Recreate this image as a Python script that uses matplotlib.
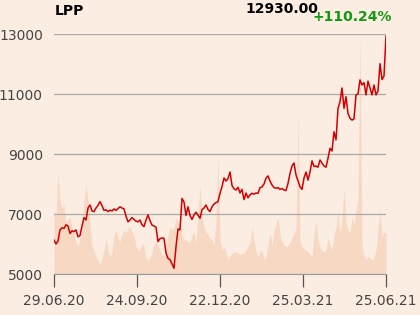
import numpy as np
import matplotlib
matplotlib.use("Agg")
from matplotlib import pyplot as plt

# closing prices (roughly every other session)
price = [6130, 6000, 6100, 6470, 6540, 6520, 6640, 6600, 6350, 6440,
         6410, 6470, 6240, 6280, 6600, 6880, 6800, 7200, 7300, 7100,
         7080, 7200, 7290, 7410, 7280, 7120, 7140, 7080, 7130, 7100,
         7170, 7120, 7180, 7240, 7200, 7170, 6930, 6740, 6800, 6880,
         6820, 6760, 6740, 6800, 6640, 6580, 6800, 6970, 6780, 6630,
         6600, 6560, 6080, 6180, 6200, 6190, 5700, 5520, 5480, 5340,
         5190, 5910, 6500, 6470, 7520, 7400, 6950, 7240, 6950, 6820,
         6970, 7060, 6960, 6860, 7140, 7200, 7300, 7150, 7080, 7240,
         7330, 7380, 7410, 7690, 7910, 8200, 8100, 8180, 8400, 7950,
         7840, 7800, 7890, 7700, 7820, 7480, 7700, 7540, 7640, 7690,
         7660, 7700, 7690, 7880, 7900, 8000, 8190, 8270, 8100, 7970,
         7880, 7860, 7880, 7820, 7850, 7800, 7780, 8020, 8350, 8600,
         8700, 8300, 8100, 7910, 7820, 8200, 8400, 8130, 8400, 8770,
         8580, 8600, 8560, 8800, 8700, 8600, 8560, 8860, 9190, 9100,
         9740, 9470, 10520, 10740, 11200, 10520, 10910, 10350, 10190, 10130,
         10170, 10970, 11000, 11470, 11300, 11380, 10970, 11430, 11200, 10970,
         11300, 10970, 11100, 12010, 11480, 11600, 12930]

# turnover, relative units
volume = [64, 59, 101, 74, 66, 69, 52, 54, 57, 46,
          39, 32, 27, 36, 46, 74, 89, 74, 49, 29,
          22, 17, 14, 9, 16, 24, 36, 24, 17, 22,
          39, 44, 36, 32, 39, 44, 41, 46, 47, 42,
          39, 27, 24, 24, 31, 26, 16, 14, 16, 22,
          29, 34, 29, 24, 19, 18, 29, 39, 47, 44,
          46, 56, 52, 49, 39, 34, 34, 32, 31, 39,
          42, 31, 59, 89, 57, 46, 42, 39, 36, 34,
          29, 54, 117, 34, 24, 27, 22, 14, 18, 21,
          22, 22, 21, 19, 21, 21, 24, 28, 31, 47,
          34, 22, 17, 22, 24, 14, 17, 29, 41, 29,
          44, 49, 57, 39, 32, 29, 27, 29, 31, 36,
          41, 46, 161, 34, 27, 25, 24, 22, 20, 17,
          39, 52, 34, 26, 24, 22, 24, 36, 29, 24,
          39, 47, 62, 41, 54, 86, 51, 44, 41, 57,
          49, 64, 74, 237, 27, 19, 14, 17, 16, 14,
          16, 24, 44, 64, 37, 42, 41]

tick_labels = ["29.06.20", "24.09.20", "22.12.20", "25.03.21", "25.06.21"]
name = "LPP"
last_close = "12930.00"
change = "+110.24%"

bg = "#fbede1"
x = np.arange(len(price))
vol = np.array(volume, dtype=float)

fig = plt.figure(figsize=(4.2, 3.15), dpi=100, facecolor=bg)
ax = fig.add_axes([54/420, 1 - 274/315, 332/420, 240/315])
ax.set_facecolor(bg)

ax.fill_between(x, 5000, 5000 + vol / vol.max() * 7900, color="#f7d8c3", lw=0, zorder=1)
ax.plot(x, price, color="#d40000", lw=1.1, zorder=3)

ax.set_xlim(0, len(price) - 1)
ax.set_ylim(5000, 13000)
ax.set_yticks([5000, 7000, 9000, 11000, 13000])
ax.set_yticklabels(["5000", "7000", "9000", "11000", "13000"])
ax.grid(axis="y", color="#aaaaaa", lw=0.9, zorder=2)
ax.set_xticks(np.linspace(0, len(price) - 1, len(tick_labels)))
ax.set_xticklabels(tick_labels)

for s in ["left", "right", "top"]:
    ax.spines[s].set_visible(False)
ax.spines["bottom"].set_color("#999999")
ax.tick_params(axis="y", length=0, pad=8, labelsize=10, labelcolor="#444444")
ax.tick_params(axis="x", length=9.5, width=0.9, color="#555555", pad=5,
               labelsize=10, labelcolor="#444444")

fig.text(55/420, 1 - 11/315, name, fontsize=10, fontweight="bold", va="center", ha="left")
fig.text(318/420, 1 - 9/315, last_close, fontsize=10, fontweight="bold", va="center", ha="right")
fig.text(392/420, 1 - 17/315, change, fontsize=10, fontweight="bold", color="#119911",
         va="center", ha="right")

fig.savefig("out.png", dpi=100, facecolor=bg)
